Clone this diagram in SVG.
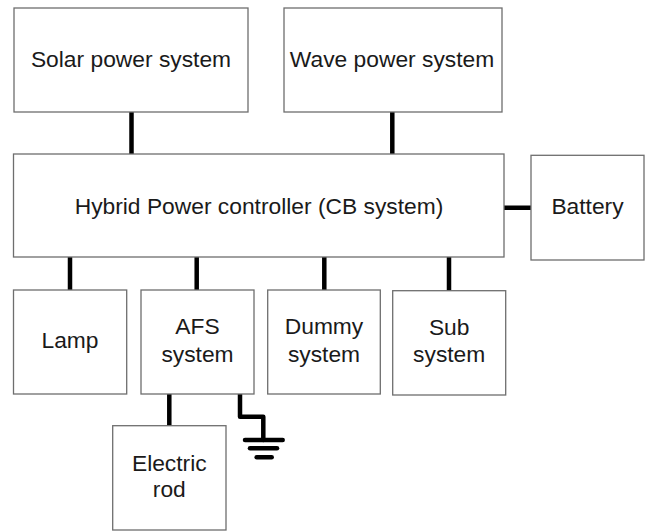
<svg xmlns="http://www.w3.org/2000/svg" width="649" height="532" viewBox="0 0 649 532">
<style>
.box{fill:#fff;stroke:#6e6e6e;stroke-width:1.3}
.t{font-family:"Liberation Sans",Arial,sans-serif;font-size:22.8px;fill:#1a1a1a;text-anchor:middle}
.c{fill:none;stroke:#000;stroke-width:4.5;stroke-linecap:round;stroke-linejoin:round}
</style>
<rect width="649" height="532" fill="#fff"/>
<g id="connectors">
<line class="c" x1="131.5" y1="112" x2="131.5" y2="154"/>
<line class="c" x1="392.3" y1="112" x2="392.3" y2="154"/>
<line class="c" x1="504" y1="207.7" x2="531" y2="207.7"/>
<line class="c" x1="70" y1="257" x2="70" y2="290"/>
<line class="c" x1="196.7" y1="257" x2="196.7" y2="290"/>
<line class="c" x1="324.3" y1="257" x2="324.3" y2="290"/>
<line class="c" x1="449" y1="257" x2="449" y2="290.7"/>
<line class="c" x1="169.3" y1="394" x2="169.3" y2="425.7"/>
<polyline class="c" points="240,394 240,416.7 263.3,416.7 263.3,440"/>
<line class="c" x1="245" y1="440" x2="282.7" y2="440"/>
<line class="c" x1="250" y1="448.3" x2="277" y2="448.3"/>
<line class="c" x1="256.7" y1="457.3" x2="271.7" y2="457.3"/>
</g>
<g id="solar"><rect class="box" x="14" y="8" width="234" height="104"/><text class="t" x="131" y="67">Solar power system</text></g>
<g id="wave"><rect class="box" x="284" y="8" width="218" height="104"/><text class="t" x="392" y="67">Wave power system</text></g>
<g id="hybrid"><rect class="box" x="13.5" y="154" width="490.5" height="103"/><text class="t" x="259" y="214">Hybrid Power controller (CB system)</text></g>
<g id="battery"><rect class="box" x="531" y="155.3" width="113" height="104.7"/><text class="t" x="587.5" y="214">Battery</text></g>
<g id="lamp"><rect class="box" x="13.5" y="290" width="113.2" height="104"/><text class="t" x="70" y="348">Lamp</text></g>
<g id="afs"><rect class="box" x="141" y="290" width="113" height="104"/><text class="t" x="197.5" y="334">AFS</text><text class="t" x="197.5" y="361.5">system</text></g>
<g id="dummy"><rect class="box" x="267.7" y="290" width="112.6" height="104"/><text class="t" x="324" y="334">Dummy</text><text class="t" x="324" y="361.5">system</text></g>
<g id="sub"><rect class="box" x="392.7" y="290.7" width="113" height="104.3"/><text class="t" x="449.2" y="335">Sub</text><text class="t" x="449.2" y="361.5">system</text></g>
<g id="rod"><rect class="box" x="112.7" y="425.7" width="113.3" height="104.3"/><text class="t" x="169.3" y="470.7">Electric</text><text class="t" x="169.3" y="497.3">rod</text></g>
</svg>
